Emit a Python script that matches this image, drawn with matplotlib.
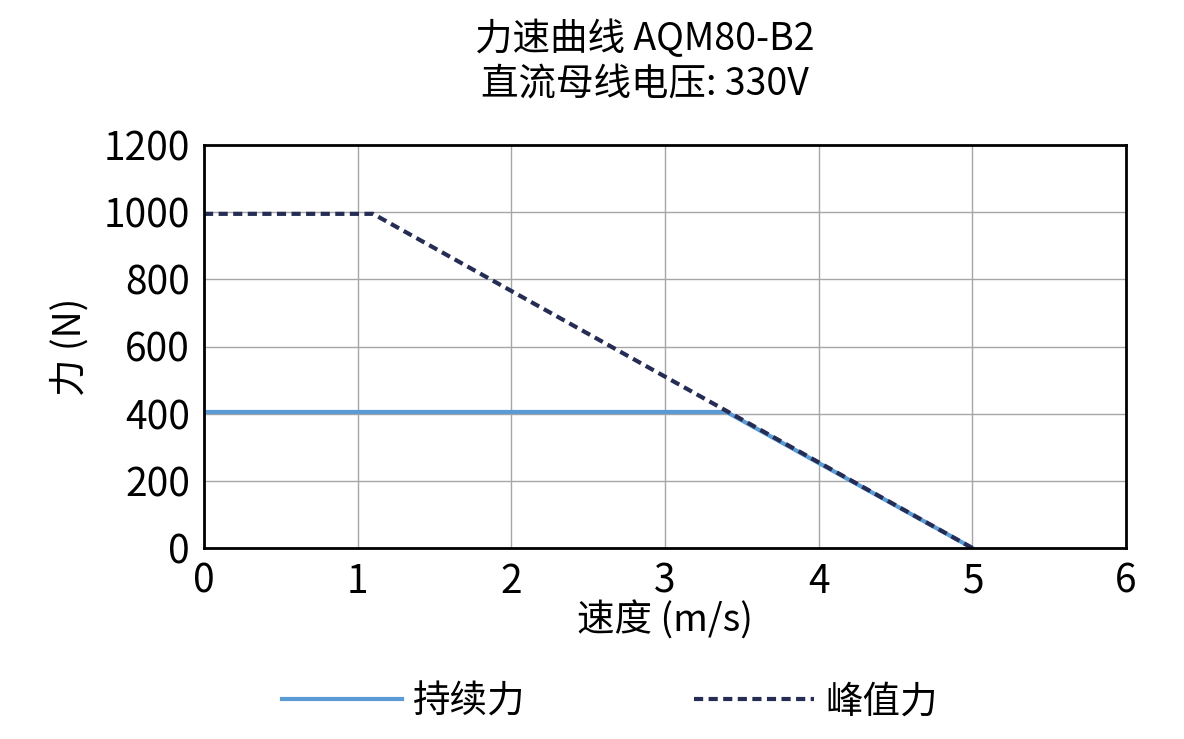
import matplotlib
matplotlib.use("Agg")
import matplotlib.pyplot as plt

plt.rcParams['font.family'] = ['Noto Sans CJK SC', 'DejaVu Sans']

cont_speed = [0, 3.4, 5.0]
cont_force = [405, 405, 0]
peak_speed = [0, 1.1, 5.0]
peak_force = [995, 995, 0]

fig = plt.figure(figsize=(11.84, 7.39), dpi=100)
ax = fig.add_axes([204 / 1184, 1 - 548 / 739, 922 / 1184, 403 / 739])

ax.plot(cont_speed, cont_force, color='#5B9BD5', lw=3, label='持续力')
ax.plot(peak_speed, peak_force, color='#252D55', lw=3, ls=(0, (2.2, 1.3)), label='峰值力')

ax.set_xlim(0, 6)
ax.set_ylim(0, 1200)
ax.set_xticks(range(0, 7))
ax.set_yticks(range(0, 1201, 200))
ax.grid(True, color='#A6A6A6', lw=1)
ax.set_axisbelow(True)
for s in ax.spines.values():
    s.set_linewidth(2)
    s.set_color('black')
ax.tick_params(length=0, labelsize=28, pad=10)

ax.set_xlabel('速度 (m/s)', fontsize=27, labelpad=0)
ax.set_ylabel('力 (N)', fontsize=27, labelpad=10)
fig.text(645 / 1184, 1 - 62 / 739, '力速曲线 AQM80-B2\n直流母线电压: 330V', fontsize=27,
         ha='center', va='center', linespacing=1.2)

ax.legend(loc='upper center', bbox_to_anchor=(0.44, -0.25), ncol=2, frameon=False,
          fontsize=27, handlelength=3.2, columnspacing=4.5, handletextpad=0.3)

fig.savefig('out.png', dpi=100)
